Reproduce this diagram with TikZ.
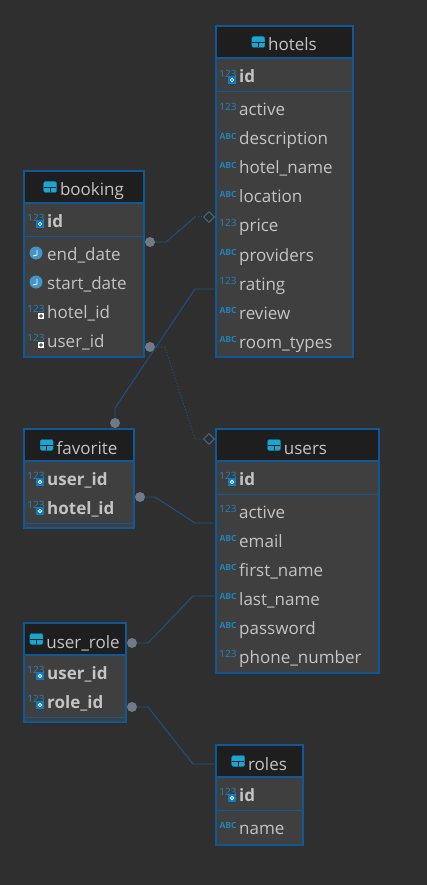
\documentclass[tikz,border=0pt]{standalone}
\usepackage{fontspec}
\setmainfont{Open Sans}
\usepackage{tikz}
\usetikzlibrary{calc, positioning, shapes.geometric}
\definecolor{Canvas}{RGB}{47,47,47}
\definecolor{Bodycol}{RGB}{63,63,63}
\definecolor{Headcol}{RGB}{30,30,30}
\definecolor{Framecol}{RGB}{16,88,150}
\definecolor{Linkcol}{RGB}{24,84,138}
\definecolor{Tagcol}{RGB}{34,130,190}
\definecolor{Keycol}{RGB}{10,125,195}
\definecolor{Labelcol}{RGB}{196,196,196}
\definecolor{Dotcol}{RGB}{112,122,134}
\newcommand{\abctag}{\textbf{\fontsize{8.5}{9}\selectfont ABC}}
\begin{document}
\begin{tikzpicture}[x=1pt, y=-1pt,
    tablebox/.style={rectangle, draw=Framecol, line width=1.8pt, fill=Bodycol,
        anchor=north west, inner sep=0pt, outer sep=0pt},
    headbox/.style={rectangle, draw=Framecol, line width=1.8pt, fill=Headcol,
        anchor=north west, inner sep=0pt, outer sep=0pt, minimum height=32pt},
    headlab/.style={font=\fontsize{17}{19}\selectfont, text=Labelcol, inner sep=0pt,
        text height=12pt, text depth=4pt},
    headicon/.style={rectangle, rounded corners=2pt, fill=Tagcol!70!cyan, draw=Tagcol!90!black,
        minimum width=13pt, minimum height=11pt, inner sep=0pt,
        path picture={\draw[Headcol, line width=0.8pt]
            (path picture bounding box.west) -- (path picture bounding box.east)
            (path picture bounding box.center) -- (path picture bounding box.south);}},
    rowlab/.style={font=\fontsize{17}{19}\selectfont, text=Labelcol, anchor=base west, inner sep=0pt},
    idlab/.style={rowlab, font=\fontsize{17}{19}\selectfont\bfseries},
    typetag/.style={font=\fontsize{10}{11}\selectfont, text=Tagcol, inner sep=0pt},
    pkkey/.style={rectangle, fill=Keycol, minimum size=8pt, inner sep=0pt,
        path picture={\draw[white, line width=0.8pt]
            (path picture bounding box.center) circle (1.7pt);}},
    fkkey/.style={rectangle, fill=white, minimum size=6pt, inner sep=0pt,
        path picture={\draw[Headcol, line width=0.8pt]
            (path picture bounding box.center) circle (1.4pt);}},
    clockface/.style={circle, fill=Tagcol!85!white, minimum size=13pt, inner sep=0pt,
        path picture={\draw[white, line width=0.8pt]
            ([shift={(1pt,3pt)}]path picture bounding box.center) --
            ([shift={(1pt,-2pt)}]path picture bounding box.center) --
            ([shift={(-3pt,-3pt)}]path picture bounding box.center);}},
    rowrule/.style={draw=Framecol, line width=1pt},
    link/.style={draw=Linkcol, line width=0.9pt},
    optlink/.style={link, line width=1pt, dotted},
    enddot/.style={circle, fill=Dotcol, minimum size=10pt, inner sep=0pt},
    enddiamond/.style={diamond, draw=Linkcol!80!white, line width=0.8pt, fill=Canvas,
        minimum size=11pt, inner sep=0pt}]
  % Fondo
  \fill[Canvas] (0,0) rectangle (427,885);
  \useasboundingbox (0,0) rectangle (427,885);
  % Tablas
  \foreach \tname/\tx/\ty/\tw/\th/\tlab/\trule in {
      hotels/216/26/137/331/hotels/91.5,
      booking/24/171/120/186/booking/236.5,
      favorite/24/429/110/99/favorite/523.5,
      users/216/429/163/244/users/494.5,
      userrole/24/623/102/99/user\_role/717.5,
      roles/216/745/87/100/roles/810.5} {
    \node[tablebox, minimum width=\tw pt, minimum height=\th pt] (\tname) at (\tx,\ty) {};
    \node[headbox, minimum width=\tw pt] (\tname-head) at (\tname.north west) {};
    \node[headlab] (\tname-lab) at ([xshift=8pt, yshift=-5pt]\tname-head.center) {\tlab};
    \node[headicon, left=3pt of \tname-lab, yshift=5pt] (\tname-icon) {};
    \draw[rowrule] (\tx,\trule) -- (\tx+\tw,\trule);
  }
  % Columnas simples
  \foreach \rx/\ry/\rtag/\rlab [count=\ri] in {
      239/110/123/active, 239/139/\abctag/description, 239/168/\abctag/hotel\_name,
      239/197/\abctag/location, 239/226/123/price, 239/255/\abctag/providers,
      239/284/123/rating, 239/313/\abctag/review, 239/342/\abctag/room\_types,
      239/512/123/active, 239/541/\abctag/email, 239/570/\abctag/first\_name,
      239/599/\abctag/last\_name, 239/628/\abctag/password, 239/657/123/phone\_number,
      239/828/\abctag/name} {
    \node[rowlab] (col\ri) at (\rx,\ry+6) {\rlab};
    \node[typetag] (tag\ri) at (\rx-11,\ry-3) {\rtag};
  }
  % Claves primarias
  \foreach \rx/\ry/\rlab [count=\ri] in {
      239/77/id, 47/221/id, 47/479/user\_id, 47/508/hotel\_id,
      239/479/id, 47/673/user\_id, 47/702/role\_id, 239/795/id} {
    \node[idlab] (pk\ri) at (\rx,\ry+6) {\rlab};
    \node[typetag] (pktag\ri) at (\rx-11,\ry-3) {123};
    \node[pkkey] (pkkey\ri) at (\rx-7,\ry+3) {};
  }
  % Claves externas
  \foreach \rlab/\ry [count=\ri] in {hotel\_id/312, user\_id/341} {
    \node[rowlab] (fk\ri) at (47,\ry+6) {\rlab};
    \node[typetag] (fktag\ri) at (36,\ry-3) {123};
    \node[fkkey] (fkkey\ri) at (41,\ry+4) {};
  }
  % Fechas
  \foreach \rlab/\ry [count=\ri] in {end\_date/254, start\_date/283} {
    \node[rowlab] (date\ri) at (47,\ry+6) {\rlab};
    \node[clockface] (clock\ri) at (36,\ry-1) {};
  }
  % Extremos
  \node[enddot] (dotbh) at (150,242) {};
  \node[enddot] (dotbu) at (150,347) {};
  \node[enddot] (dotfh) at (115,423) {};
  \node[enddot] (dotfu) at (140,497) {};
  \node[enddot] (dotuu) at (132,643) {};
  \node[enddot] (dotur) at (132,707) {};
  \node[enddiamond] (diahotels) at (209,217) {};
  \node[enddiamond] (diausers) at (209,439) {};
  \coordinate (bhA) at (166,242);
  \coordinate (bhB) at (195,217);
  \coordinate (buA) at (165,347);
  \coordinate (buB) at (195,439);
  \coordinate (fhA) at (115,408);
  \coordinate (fhB) at (195,289);
  \coordinate (fuA) at (155,497);
  \coordinate (fuB) at (195,523);
  \coordinate (uuA) at (148,643);
  \coordinate (uuB) at (193,596);
  \coordinate (urA) at (148,707);
  \coordinate (urB) at (193,764);
  % Conectores
  \draw[link] (dotbh) -- (bhA) -- (bhB);
  \draw[optlink] (bhB) -- (diahotels);
  \draw[optlink] (dotbu) -- (buA) -- (buB) -- (diausers);
  \draw[link] (dotfh) -- (fhA) -- (fhB) -- (fhB -| hotels.west);
  \draw[link] (dotfu) -- (fuA) -- (fuB) -- (fuB -| users.west);
  \draw[link] (dotuu) -- (uuA) -- (uuB) -- (uuB -| users.west);
  \draw[link] (dotur) -- (urA) -- (urB) -- (urB -| roles.west);
\end{tikzpicture}
\end{document}
